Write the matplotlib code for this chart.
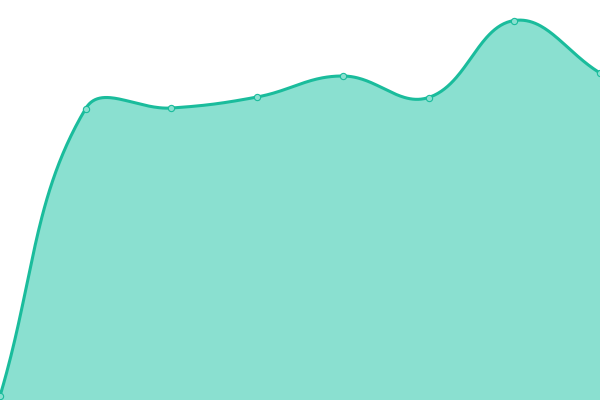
import matplotlib
matplotlib.use("Agg")
import matplotlib.pyplot as plt
import numpy as np

# data
x_values = [0, 1, 2, 3, 4, 5, 6, 7]
y_values = [4, 291.5, 292, 303, 324, 302.5, 379.5, 327]

line_color = "#1abc9c"
fill_color = "#8ae0d0"
tension = 0.4


def spline_path(pts, t):
    # chart.js-style cubic interpolation, in display space
    n = len(pts)
    cps = []
    for i in range(n):
        prev = pts[max(i - 1, 0)]
        cur = pts[i]
        nxt = pts[min(i + 1, n - 1)]
        d01 = np.hypot(*(cur - prev))
        d12 = np.hypot(*(nxt - cur))
        tot = d01 + d12 if d01 + d12 > 0 else 1
        fa = t * d01 / tot
        fb = t * d12 / tot
        cps.append((cur - fa * (nxt - prev), cur + fb * (nxt - prev)))
    out = [pts[0]]
    s = np.linspace(0, 1, 60)[1:, None]
    for i in range(n - 1):
        p0 = pts[i]
        p1 = cps[i][1]
        p2 = cps[i + 1][0]
        p3 = pts[i + 1]
        seg = ((1 - s) ** 3) * p0 + 3 * ((1 - s) ** 2) * s * p1 + 3 * (1 - s) * s ** 2 * p2 + s ** 3 * p3
        out.extend(seg)
    return np.array(out)


def main():
    fig = plt.figure(figsize=(6, 4), dpi=100)
    ax = fig.add_axes([0, 0, 1, 1])
    ax.set_xlim(0, 7)
    ax.set_ylim(0, 400)
    ax.axis("off")

    pts = ax.transData.transform(np.column_stack([x_values, y_values]))
    curve = ax.transData.inverted().transform(spline_path(pts, tension))

    ax.fill_between(curve[:, 0], curve[:, 1], 0, color=fill_color, linewidth=0)
    ax.plot(curve[:, 0], curve[:, 1], color=line_color, linewidth=2.2, solid_capstyle="round")
    ax.plot(x_values, y_values, linestyle="none", marker="o", markersize=4.5,
            markerfacecolor=fill_color, markeredgecolor=line_color, markeredgewidth=0.8,
            clip_on=True)

    fig.savefig("out.png", dpi=100)


if __name__ == '__main__':
    main()
